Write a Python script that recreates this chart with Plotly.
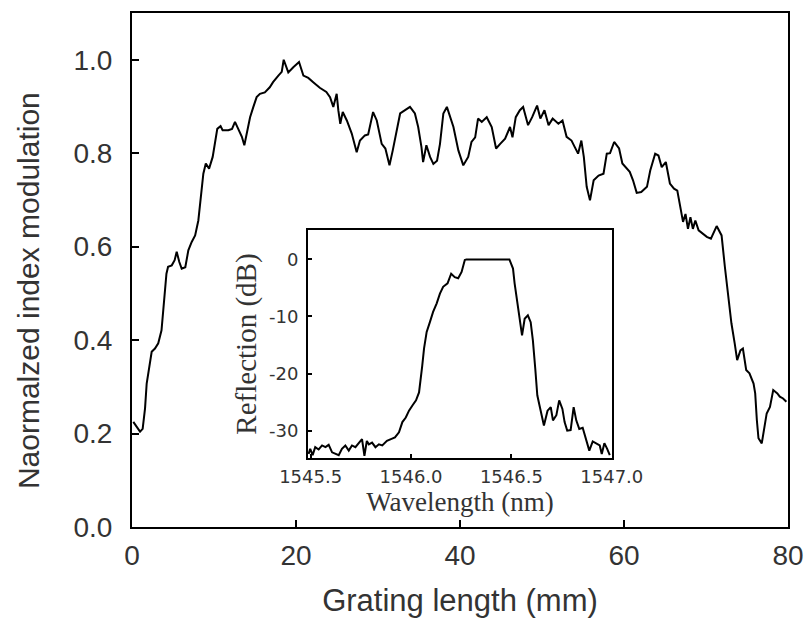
import plotly.graph_objects as go

# Main curve: normalized index modulation vs grating length
grating_mm = [0.16, 0.57, 0.98, 1.3, 1.59, 1.79, 2.1, 2.4, 2.8, 3.2, 3.6, 3.8, 4.0, 4.2, 4.4, 4.85,
              5.2, 5.45, 5.77, 6.06, 6.5, 6.87, 7.28, 7.7, 8.09, 8.4, 8.7, 9.0, 9.4, 9.84, 10.1, 10.4,
              10.8, 11.05, 11.75, 12.2, 12.56, 12.97, 13.4, 13.7, 14.06, 14.4, 14.8, 15.2, 15.6, 16.2,
              16.8, 17.2, 17.85, 18.26, 18.5, 18.86, 19.06, 19.67, 20.37, 20.9, 21.5, 22.1, 22.9, 23.7,
              24.15, 24.55, 24.96, 25.16, 25.4, 25.7, 26.2, 26.8, 27.4, 27.8, 28.4, 28.8, 29.4, 29.85,
              30.45, 30.9, 31.4, 31.8, 32.2, 32.7, 33.3, 33.9, 34.5, 34.9, 35.3, 35.5, 35.9, 36.35,
              36.75, 37.2, 37.56, 37.97, 38.4, 39.2, 39.8, 40.4, 41.0, 41.4, 41.85, 42.2, 42.65, 43.26,
              43.87, 44.4, 44.9, 45.5, 46.1, 46.4, 46.8, 47.3, 47.7, 48.3, 48.8, 49.4, 49.8, 50.3,
              50.8, 51.3, 52.0, 52.5, 53.0, 53.6, 54.0, 54.4, 54.8, 55.1, 55.45, 55.85, 56.3, 56.9,
              57.5, 57.9, 58.3, 58.8, 59.4, 59.8, 60.7, 61.1, 61.55, 62.1, 62.8, 63.2, 63.8, 64.2,
              64.6, 65.1, 65.6, 66.1, 66.5, 66.8, 67.2, 67.5, 67.8, 68.1, 68.4, 68.7, 69.1, 70.1,
              70.6, 71.3, 71.9, 72.3, 72.7, 73.1, 73.5, 73.8, 74.2, 74.5, 74.9, 75.3, 75.8, 76.0,
              76.2, 76.4, 76.8, 77.1, 77.4, 77.8, 78.2, 78.7, 79.0, 79.4, 79.8]
index_mod = [0.225, 0.214, 0.204, 0.21, 0.254, 0.307, 0.346, 0.375, 0.382, 0.393, 0.421, 0.457, 0.50,
             0.542, 0.557, 0.56, 0.571, 0.589, 0.567, 0.553, 0.556, 0.592, 0.61, 0.624, 0.656, 0.706,
             0.756, 0.778, 0.767, 0.792, 0.82, 0.852, 0.858, 0.849, 0.849, 0.852, 0.867, 0.852, 0.835,
             0.817, 0.849, 0.877, 0.899, 0.92, 0.927, 0.93, 0.941, 0.952, 0.966, 0.974, 1.0, 0.984,
             0.973, 0.984, 0.995, 0.966, 0.961, 0.952, 0.94, 0.931, 0.92, 0.899, 0.927, 0.892, 0.863,
             0.888, 0.87, 0.842, 0.802, 0.827, 0.838, 0.84, 0.888, 0.87, 0.82, 0.81, 0.774, 0.806,
             0.842, 0.885, 0.892, 0.899, 0.885, 0.856, 0.813, 0.781, 0.817, 0.792, 0.777, 0.784, 0.82,
             0.885, 0.899, 0.856, 0.806, 0.774, 0.792, 0.824, 0.834, 0.874, 0.867, 0.877, 0.856, 0.81,
             0.82, 0.831, 0.856, 0.834, 0.877, 0.892, 0.899, 0.86, 0.877, 0.902, 0.874, 0.892, 0.86,
             0.874, 0.863, 0.87, 0.835, 0.827, 0.813, 0.799, 0.827, 0.792, 0.728, 0.699, 0.742, 0.752,
             0.756, 0.799, 0.80, 0.824, 0.81, 0.778, 0.76, 0.742, 0.715, 0.717, 0.728, 0.763, 0.799,
             0.795, 0.77, 0.781, 0.735, 0.724, 0.72, 0.692, 0.653, 0.67, 0.638, 0.663, 0.638, 0.656,
             0.635, 0.621, 0.617, 0.644, 0.624, 0.557, 0.50, 0.436, 0.393, 0.357, 0.378, 0.382, 0.336,
             0.329, 0.307, 0.286, 0.229, 0.19, 0.179, 0.213, 0.243, 0.257, 0.293, 0.286, 0.279, 0.275,
             0.268]

# Inset: reflection spectrum
wavelength_nm = [1545.49, 1545.498, 1545.51, 1545.523, 1545.54, 1545.557, 1545.574, 1545.59, 1545.607,
                 1545.623, 1545.64, 1545.656, 1545.673, 1545.69, 1545.706, 1545.723, 1545.74, 1545.756,
                 1545.768, 1545.78, 1545.79, 1545.806, 1545.823, 1545.84, 1545.857, 1545.88, 1545.9,
                 1545.92, 1545.94, 1545.957, 1545.974, 1545.99, 1546.007, 1546.025, 1546.04, 1546.05,
                 1546.056, 1546.065, 1546.078, 1546.094, 1546.11, 1546.128, 1546.144, 1546.16, 1546.182,
                 1546.2, 1546.218, 1546.235, 1546.252, 1546.268, 1546.276, 1546.49, 1546.508, 1546.516,
                 1546.53, 1546.54, 1546.553, 1546.566, 1546.582, 1546.596, 1546.607, 1546.619, 1546.629,
                 1546.64, 1546.652, 1546.662, 1546.68, 1546.696, 1546.707, 1546.724, 1546.738, 1546.754,
                 1546.765, 1546.778, 1546.795, 1546.81, 1546.823, 1546.838, 1546.855, 1546.872, 1546.888,
                 1546.905, 1546.922, 1546.94, 1546.95, 1546.963, 1546.977, 1546.99]
reflection_db = [-34.1, -33.2, -34.3, -32.9, -33.3, -32.6, -32.9, -32.5, -33.8, -34.1, -34.3, -33.2,
                 -32.6, -33.5, -32.6, -32.9, -32.1, -31.5, -34.4, -31.8, -32.4, -32.1, -32.9, -32.4,
                 -32.6, -31.8, -31.5, -31.2, -30.3, -28.5, -27.7, -26.5, -25.6, -24.7, -23.3, -20.9,
                 -18.6, -15.6, -12.7, -11.0, -9.2, -7.7, -6.0, -4.8, -4.2, -2.5, -3.1, -3.3, -2.2,
                 -0.1, 0.0, 0.0, -1.6, -4.2, -7.5, -9.5, -13.3, -10.4, -9.8, -11.0, -14.2, -19.2,
                 -23.8, -25.6, -27.9, -29.1, -26.5, -25.9, -28.2, -27.3, -24.7, -26.2, -28.5, -30.0,
                 -29.9, -25.9, -28.2, -29.7, -29.5, -31.5, -33.5, -31.9, -32.2, -32.6, -34.1, -32.2,
                 -33.2, -34.3]

main_xticks = [0, 20, 40, 60, 80]
main_yticks = [0.0, 0.2, 0.4, 0.6, 0.8, 1.0]
inset_xticks = [1545.5, 1546.0, 1546.5, 1547.0]
inset_xticklabels = ["1545.5", "1546.0", "1546.5", "1547.0"]
inset_yticks = [0, -10, -20, -30]
inset_yticklabels = ["0", "-10", "-20", "-30"]

fig = go.Figure()
fig.add_trace(go.Scatter(x=grating_mm, y=index_mod, mode="lines",
                         line=dict(color="black", width=2), xaxis="x", yaxis="y",
                         showlegend=False, hoverinfo="skip"))
fig.add_trace(go.Scatter(x=wavelength_nm, y=reflection_db, mode="lines",
                         line=dict(color="black", width=2), xaxis="x2", yaxis="y2",
                         showlegend=False, hoverinfo="skip"))

sans = "Liberation Sans, Arial, sans-serif"
serif = "Liberation Serif, Times New Roman, serif"
tcol = "#333333"

fig.update_layout(
    width=804, height=624,
    margin=dict(l=132, r=16, t=13, b=97, autoexpand=False),
    paper_bgcolor="white", plot_bgcolor="white",
    xaxis=dict(range=[0, 80], tickvals=main_xticks, ticks="inside", ticklen=7, tickwidth=2,
               tickcolor="black", showline=True, linecolor="black", linewidth=2, mirror=True,
               showgrid=False, zeroline=False, automargin=False,
               tickfont=dict(family=sans, size=28, color=tcol), ticklabelstandoff=2,
               title=dict(text="Grating length (mm)", font=dict(family=sans, size=31, color=tcol),
                          standoff=20)),
    yaxis=dict(range=[0, 1.1], tickvals=main_yticks, tickformat=".1f", ticks="inside", ticklen=7,
               tickwidth=2, tickcolor="black", showline=True, linecolor="black", linewidth=2,
               mirror=True, showgrid=False, zeroline=False, automargin=False,
               tickfont=dict(family=sans, size=28, color=tcol), ticklabelstandoff=12),
    xaxis2=dict(domain=[0.2683, 0.7317], anchor="y2", range=[1545.487, 1547.001],
                tickvals=inset_xticks, ticktext=inset_xticklabels, ticks="inside", ticklen=4,
                tickwidth=2, tickcolor="black", showline=True, linecolor="black", linewidth=2,
                mirror=True, showgrid=False, zeroline=False,
                tickfont=dict(family="DejaVu Sans, sans-serif", size=18, color=tcol), ticklabelstandoff=1,
                title=dict(text="Wavelength (nm)", font=dict(family=serif, size=27, color=tcol),
                           standoff=1)),
    yaxis2=dict(domain=[0.1342, 0.5778], anchor="x2", range=[-34.8, 5.15],
                tickvals=inset_yticks, ticktext=inset_yticklabels, ticks="inside", ticklen=4,
                tickwidth=2, tickcolor="black", showline=True, linecolor="black", linewidth=2,
                mirror=True, showgrid=False, zeroline=False,
                tickfont=dict(family="DejaVu Sans, sans-serif", size=18, color=tcol), ticklabelstandoff=4,
                title=dict(text="Reflection (dB)", font=dict(family=serif, size=29, color=tcol),
                           standoff=4)),
    annotations=[dict(text="Naormalzed index modulation", xref="paper", yref="paper",
                      x=-0.1585, y=0.459, xanchor="center", yanchor="middle", textangle=-90,
                      showarrow=False, font=dict(family=sans, size=30, color=tcol))],
)

fig.write_html("out.html")
